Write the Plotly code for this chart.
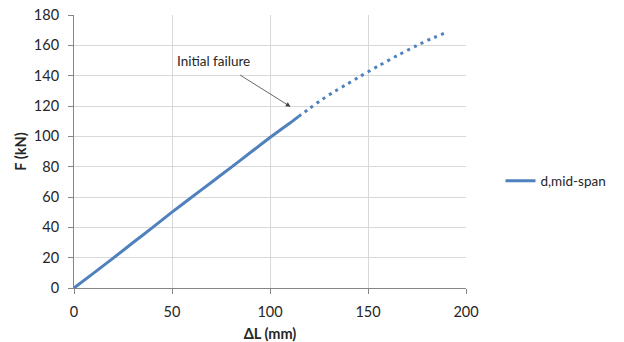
import plotly.graph_objects as go

# Load-displacement response, mid-span
dl_solid = [0, 10, 20, 30, 40, 50, 60, 70, 80, 90, 100, 110, 114.5]
f_solid = [0, 9.8, 19.7, 29.8, 39.8, 50, 59.8, 69.6, 79.4, 89.3, 99.2, 108.6, 113]

# Post-failure branch (drawn dotted)
dl_post = [114.5, 120, 126, 132, 139, 145, 155, 165, 175, 182, 189]
f_post = [113, 118.2, 123.8, 128.9, 134.2, 138.8, 146.2, 153.3, 159.9, 164.2, 168]

series_name = "d,mid-span"
x_ticks = [0, 50, 100, 150, 200]
y_ticks = [0, 20, 40, 60, 80, 100, 120, 140, 160, 180]

blue = "#4F81BD"
text_color = "#262626"
font_family = "Lato, 'Open Sans', sans-serif"

fig = go.Figure()
fig.add_trace(go.Scatter(
    x=dl_solid, y=f_solid, mode="lines", name=series_name,
    line=dict(color=blue, width=3, shape="spline", smoothing=0.6),
))
fig.add_trace(go.Scatter(
    x=dl_post, y=f_post, mode="lines", showlegend=False,
    line=dict(color=blue, width=3, dash="3px,4.5px", shape="spline", smoothing=0.6),
))

# Arrow pointing at the onset of failure
fig.add_annotation(
    x=110.5, y=119.5, ax=84, ay=141, xref="x", yref="y", axref="x", ayref="y",
    text="", showarrow=True, arrowhead=2, arrowsize=1.2, arrowwidth=0.8,
    arrowcolor="#404040",
)
fig.add_annotation(
    x=71, y=149.5, xref="x", yref="y", text="Initial failure", showarrow=False,
    font=dict(size=13.5, color=text_color, family=font_family),
)

axis_common = dict(
    showgrid=True, gridcolor="#D9D9D9", gridwidth=1,
    showline=True, linecolor="#868686", linewidth=1,
    ticks="outside", ticklen=5, tickcolor="#868686",
    zeroline=False, automargin=False,
    tickfont=dict(size=14.5, color=text_color, family=font_family),
)

fig.update_xaxes(
    range=[0, 200], tickvals=x_ticks, ticklabelstandoff=6,
    title=dict(text="<b>ΔL (mm)</b>", font=dict(size=14.5, color=text_color, family=font_family), standoff=16),
    **axis_common,
)
fig.update_yaxes(
    range=[0, 180], tickvals=y_ticks, ticklabelstandoff=6,
    title=dict(text="<b>F (kN)</b>", font=dict(size=14.5, color=text_color, family=font_family), standoff=3),
    **axis_common,
)

fig.update_layout(
    width=624, height=342,
    margin=dict(l=74, r=155, t=15, b=54),
    paper_bgcolor="white", plot_bgcolor="white",
    showlegend=True,
    legend=dict(
        x=1.088, y=0.392, xanchor="left", yanchor="middle",
        font=dict(size=13.5, color=text_color, family=font_family),
        bgcolor="rgba(0,0,0,0)",
    ),
)

fig.write_html("out.html")
